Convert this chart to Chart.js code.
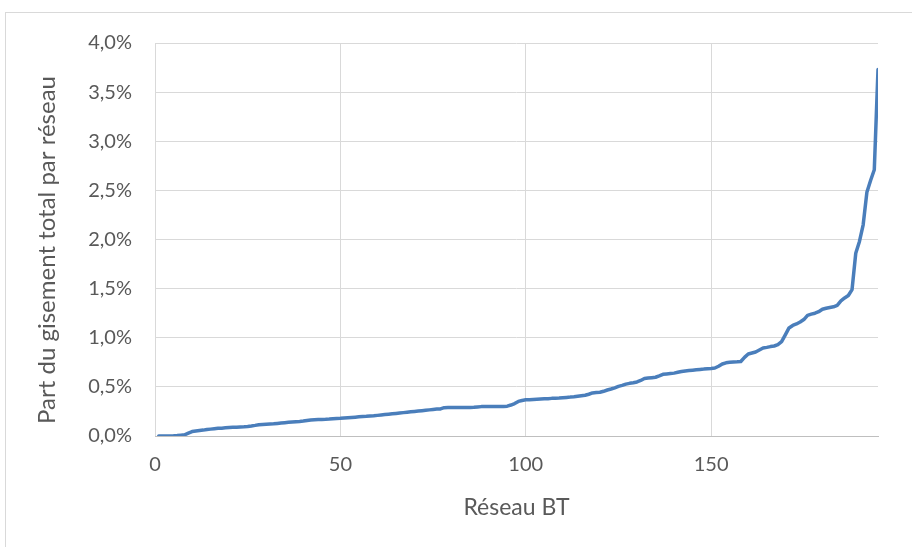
<!DOCTYPE html>
<html>
<head>
<meta charset="utf-8">
<script src="https://cdn.jsdelivr.net/npm/chart.js@4/dist/chart.umd.min.js"></script>
<style>
  html, body { margin: 0; padding: 0; background: #fff; overflow: hidden; }
  #frame { position: absolute; left: 5px; top: 12px; width: 1000px; height: 1000px; border: 1px solid #d9d9d9; }
  #gisementChart { position: absolute; left: 0; top: 0; }
</style>
</head>
<body>
<div id="frame"></div>
<canvas id="gisementChart" width="912" height="547"></canvas>
<script>
// part du gisement total (en %) pour chaque réseau BT, triée
const share = [
  0.000, 0.000, 0.000, 0.001, 0.002, 0.004, 0.008, 0.012, 0.030, 0.045,
  0.050, 0.055, 0.060, 0.066, 0.070, 0.074, 0.078, 0.080, 0.083, 0.086,
  0.088, 0.090, 0.092, 0.094, 0.097, 0.102, 0.108, 0.115, 0.118, 0.120,
  0.122, 0.124, 0.128, 0.132, 0.136, 0.140, 0.143, 0.146, 0.148, 0.152,
  0.158, 0.163, 0.165, 0.167, 0.169, 0.170, 0.172, 0.175, 0.178, 0.180,
  0.183, 0.186, 0.189, 0.192, 0.195, 0.198, 0.200, 0.203, 0.206, 0.210,
  0.214, 0.218, 0.222, 0.226, 0.230, 0.234, 0.238, 0.242, 0.246, 0.250,
  0.254, 0.258, 0.262, 0.266, 0.270, 0.274, 0.276, 0.288, 0.289, 0.289,
  0.289, 0.290, 0.290, 0.290, 0.291, 0.293, 0.296, 0.299, 0.300, 0.300,
  0.300, 0.300, 0.300, 0.301, 0.304, 0.315, 0.330, 0.352, 0.362, 0.368,
  0.370, 0.372, 0.374, 0.376, 0.378, 0.380, 0.383, 0.385, 0.387, 0.390,
  0.393, 0.396, 0.400, 0.405, 0.410, 0.415, 0.425, 0.438, 0.442, 0.445,
  0.455, 0.468, 0.478, 0.490, 0.505, 0.515, 0.528, 0.536, 0.542, 0.550,
  0.565, 0.585, 0.590, 0.594, 0.598, 0.612, 0.628, 0.632, 0.636, 0.640,
  0.648, 0.656, 0.662, 0.666, 0.670, 0.674, 0.678, 0.681, 0.685, 0.688,
  0.692, 0.710, 0.733, 0.745, 0.750, 0.753, 0.755, 0.758, 0.800, 0.835,
  0.845, 0.855, 0.875, 0.895, 0.902, 0.910, 0.916, 0.930, 0.960, 1.030,
  1.100, 1.125, 1.140, 1.160, 1.185, 1.228, 1.240, 1.250, 1.265, 1.290,
  1.300, 1.308, 1.315, 1.330, 1.375, 1.405, 1.430, 1.490, 1.860, 1.980,
  2.150, 2.480, 2.600, 2.710, 3.730
];
// numéro du réseau (1..n)
const reseaux = share.map((_, i) => i + 1);

const xTicks = [0, 50, 100, 150];
const yTicks = [0, 0.5, 1.0, 1.5, 2.0, 2.5, 3.0, 3.5, 4.0];

const xTitle = "Réseau BT";
const yTitle = "Part du gisement total par réseau";

const textColor = "#595959";
const fontFamily = "Lato, 'Open Sans', sans-serif";

// titre vertical dessiné à la main pour le placer comme dans Excel
const yTitlePlugin = {
  id: "yTitle",
  afterDraw(c) {
    const ctx = c.ctx;
    ctx.save();
    ctx.translate(47, 250);
    ctx.rotate(-Math.PI / 2);
    ctx.fillStyle = textColor;
    ctx.font = "24px " + fontFamily;
    ctx.textAlign = "center";
    ctx.textBaseline = "middle";
    ctx.fillText(yTitle, 0, 0);
    ctx.restore();
  }
};

const chart = new Chart(document.getElementById("gisementChart"), {
  type: "line",
  data: {
    datasets: [{
      label: yTitle,
      data: reseaux.map((x, i) => ({ x: x, y: share[i] })),
      borderColor: "#4a7ebb",
      borderWidth: 3.5,
      pointRadius: 0,
      tension: 0,
      borderJoinStyle: "round",
      borderCapStyle: "round",
      fill: false
    }]
  },
  options: {
    responsive: false,
    animation: false,
    devicePixelRatio: 1,
    layout: { padding: { left: 0, right: 34, top: 43, bottom: 0 } },
    plugins: { legend: { display: false }, tooltip: { enabled: false } },
    scales: {
      x: {
        type: "linear",
        min: 0,
        max: 195,
        afterBuildTicks: s => { s.ticks = xTicks.map(v => ({ value: v })); },
        afterFit: s => { s.height = 111; },
        grid: { color: "#d9d9d9", lineWidth: 1, drawTicks: false },
        border: { display: true, color: "#bfbfbf", width: 1 },
        ticks: {
          color: textColor,
          font: { family: fontFamily, size: 20 },
          padding: 17,
          maxRotation: 0
        },
        title: {
          display: true,
          text: xTitle,
          color: textColor,
          font: { family: fontFamily, size: 23 },
          padding: { top: 0, bottom: 26 }
        }
      },
      y: {
        min: 0,
        max: 4,
        afterBuildTicks: s => { s.ticks = yTicks.map(v => ({ value: v })); },
        afterFit: s => { s.width = 155; },
        grid: { color: "#d9d9d9", lineWidth: 1, drawTicks: false },
        border: { display: false },
        ticks: {
          color: textColor,
          font: { family: fontFamily, size: 20 },
          padding: 23,
          callback: v => v.toFixed(1).replace(".", ",") + "%"
        }
      }
    }
  },
  plugins: [yTitlePlugin]
});
</script>
</body>
</html>
